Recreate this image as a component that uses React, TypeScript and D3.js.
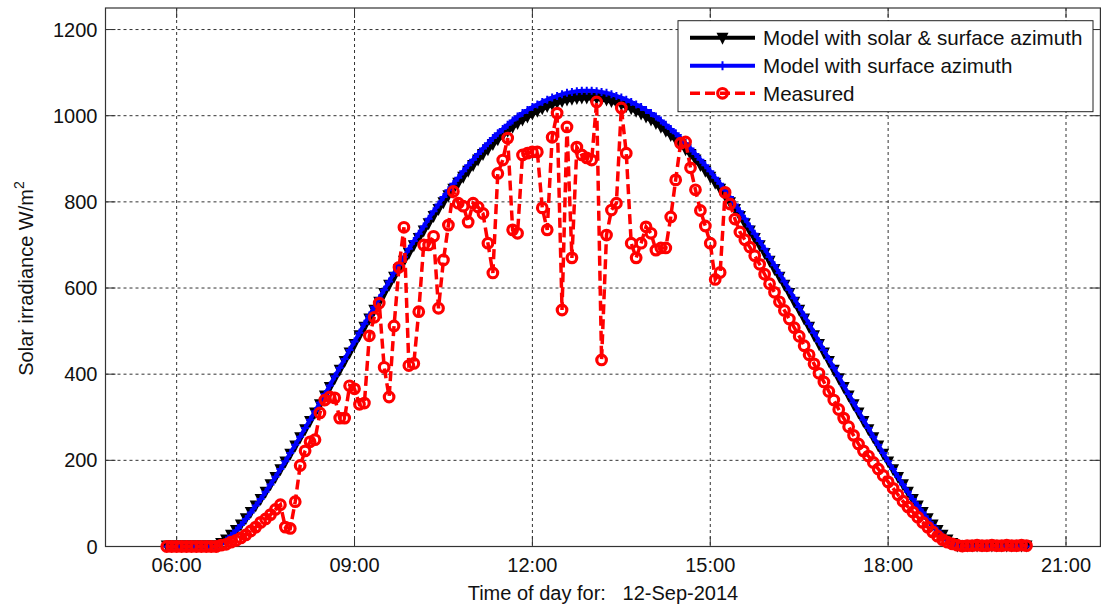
import React from 'react';
import * as d3 from 'd3';

// 5-minute samples starting at 05:50
const startHour = 5 + 50 / 60;
const stepHours = 5 / 60;

const modelSolarSurface = [
  0, 0, 0, 0, 0, 0, 0, 0, 0, 0, 0,
  6, 14, 25, 36, 49, 63, 78, 93, 108, 125, 142, 159, 177, 195, 213, 232, 251, 270, 289, 309,
  328, 348, 368, 388, 408, 428, 448, 468, 488, 508, 527, 547, 566, 586, 605, 624, 642, 661, 679, 697,
  714, 731, 748, 765, 781, 797, 813, 828, 842, 856, 870, 883, 896, 909, 920, 932, 943, 953, 963, 972,
  981, 989, 996, 1003, 1009, 1015, 1020, 1025, 1029, 1032, 1035, 1037, 1039, 1040, 1040,
  1040, 1039, 1037, 1035, 1032, 1029, 1025, 1020, 1015, 1009, 1003, 996, 989, 981, 972, 963, 953, 943,
  932, 920, 909, 896, 883, 870, 856, 842, 828, 813, 797, 781, 765, 748, 731, 714, 697, 679, 661, 642,
  624, 605, 586, 566, 547, 527, 508, 488, 468, 448, 428, 408, 388, 368, 348, 328, 309, 289, 270, 251,
  232, 213, 195, 177, 159, 142, 125, 108, 93, 78, 63, 49, 36, 25, 14, 6,
  0, 0, 0, 0, 0, 0, 0, 0, 0, 0, 0, 0, 0, 0, 0,
];

const modelSurface = [
  0, 0, 0, 0, 0, 0, 0, 0, 0, 0, 0,
  6, 14, 25, 37, 50, 64, 79, 95, 110, 127, 144, 162, 180, 198, 217, 236, 255, 275, 294, 314,
  334, 354, 374, 395, 415, 435, 456, 476, 496, 517, 536, 556, 576, 596, 615, 635, 653, 672, 691, 709,
  726, 743, 761, 778, 794, 811, 827, 842, 856, 871, 885, 898, 911, 924, 936, 948, 959, 969, 979, 989,
  998, 1006, 1013, 1020, 1026, 1032, 1037, 1042, 1046, 1050, 1053, 1055, 1057, 1058, 1058,
  1058, 1057, 1055, 1053, 1050, 1046, 1042, 1037, 1032, 1026, 1020, 1013, 1006, 998, 989, 979, 969, 959,
  948, 936, 924, 911, 898, 885, 871, 856, 842, 827, 811, 794, 778, 761, 743, 726, 709, 691, 672, 653,
  635, 615, 596, 576, 556, 536, 517, 496, 476, 456, 435, 415, 395, 374, 354, 334, 314, 294, 275, 255,
  236, 217, 198, 180, 162, 144, 127, 110, 95, 79, 64, 50, 37, 25, 14, 6,
  0, 0, 0, 0, 0, 0, 0, 0, 0, 0, 0, 0, 0, 0, 0,
];

const measured = [
  0, 0, 0, 0, 0, 0, 0, 0, 0, 0, 0,
  3, 5, 10, 14, 20, 27, 36, 45, 56, 64, 74, 86, 97,
  45, 42, 104, 188, 222, 243, 248,
  310, 340, 347, 345, 298, 298, 373, 366, 330, 333,
  489, 532, 565, 416, 347, 512, 648, 741, 420, 425,
  545, 700, 700, 720, 553, 665, 746, 824, 797, 790,
  753, 797, 788, 773, 704, 635, 866, 897, 948, 735,
  727, 909, 913, 916, 916, 786, 735, 950, 1006, 549,
  974, 670, 927, 909, 902, 897, 1032, 433, 723, 781,
  797, 1018, 913, 704, 670, 704, 742, 727, 688, 693,
  693, 765, 851, 936, 939, 879, 828, 780, 744, 704,
  620, 636, 822, 795, 760, 730, 712, 695, 675, 655,
  632, 610, 590, 568, 548, 528, 508, 488, 466, 445,
  424, 402, 382, 360, 340, 318, 298, 278, 258, 238,
  222, 210, 195, 180, 165, 150, 135, 120, 105, 92,
  80, 68, 56, 45, 34, 24, 16, 10, 6, 3,
  1, 2, 2, 3, 2, 2, 3, 2, 2, 3, 2, 2, 3, 2,
];

const xTickValues = [6, 9, 12, 15, 18, 21];
const xTickLabels = ['06:00', '09:00', '12:00', '15:00', '18:00', '21:00'];
const yTickValues = [0, 200, 400, 600, 800, 1000, 1200];

const legendLabels = [
  'Model with solar & surface azimuth',
  'Model with surface azimuth',
  'Measured',
];

const font = "'Liberation Sans', Arial, sans-serif";

const App = () => {
  const W = 1102;
  const H = 608;
  const left = 105.5, right = 1100.4, top = 8, bottom = 546.5;

  const x = d3.scaleLinear().domain([4.8, 21.58]).range([left, right]);
  const y = d3.scaleLinear().domain([0, 1250]).range([bottom, top]);

  const times = d3.range(measured.length).map(k => startHour + k * stepHours);

  const line = d3.line<number>()
    .x((d, i) => x(times[i]))
    .y(d => y(d));

  const tri = (cx, cy, s) =>
    `M${cx - s / 2},${cy - s / 2}L${cx + s / 2},${cy - s / 2}L${cx},${cy + s / 2}Z`;
  const plus = (cx, cy, s) =>
    `M${cx - s / 2},${cy}L${cx + s / 2},${cy}M${cx},${cy - s / 2}L${cx},${cy + s / 2}`;

  React.useEffect(() => {
    document.body.style.margin = '0';
  }, []);

  const tickLen = 10;
  const gridColor = '#333';
  const legX = 678, legY = 20.7, legW = 415, legH = 91;
  const rowY = [37.7, 65.7, 93.3];
  const triSize = 12;
  const circR = 4.8;

  return (
    <svg width={W} height={H} style={{ display: 'block', background: '#fff' }} fontFamily={font}>
      <rect x={0} y={0} width={W} height={H} fill="#fff" />
      {/* grid */}
      {xTickValues.map(v => (
        <line key={'gx' + v} x1={x(v)} x2={x(v)} y1={top} y2={bottom}
          stroke={gridColor} strokeWidth={1} strokeDasharray="3,3" />
      ))}
      {yTickValues.map(v => (
        <line key={'gy' + v} x1={left} x2={right} y1={y(v)} y2={y(v)}
          stroke={gridColor} strokeWidth={1} strokeDasharray="3,3" />
      ))}
      {/* ticks */}
      {xTickValues.map(v => (
        <g key={'tx' + v} stroke="#333" strokeWidth={1}>
          <line x1={x(v)} x2={x(v)} y1={bottom} y2={bottom - tickLen} />
          <line x1={x(v)} x2={x(v)} y1={top} y2={top + tickLen} />
        </g>
      ))}
      {yTickValues.map(v => (
        <g key={'ty' + v} stroke="#333" strokeWidth={1}>
          <line x1={left} x2={left + tickLen} y1={y(v)} y2={y(v)} />
          <line x1={right} x2={right - tickLen} y1={y(v)} y2={y(v)} />
        </g>
      ))}
      {/* frame */}
      <rect x={left} y={top} width={right - left} height={bottom - top}
        fill="none" stroke="#333" strokeWidth={1.2} />

      {/* tick labels */}
      {xTickValues.map((v, i) => (
        <text key={'lx' + v} x={x(v)} y={571.5} textAnchor="middle" fontSize={20} fill="#111">
          {xTickLabels[i]}
        </text>
      ))}
      {yTickValues.map(v => (
        <text key={'ly' + v} x={97.5} y={y(v)} dy="0.35em" textAnchor="end" fontSize={20} fill="#111">
          {v}
        </text>
      ))}

      {/* axis labels */}
      <text x={(left + right) / 2} y={600} textAnchor="middle" fontSize={20} fill="#111"
        style={{ whiteSpace: 'pre' }}>
        {'Time of day for:   12-Sep-2014'}
      </text>
      <text transform={`translate(33,278.5) rotate(-90)`} textAnchor="middle" fontSize={20} fill="#111">
        Solar irradiance W/m<tspan dy={-9} fontSize={14}>2</tspan>
      </text>

      {/* model with solar & surface azimuth */}
      <path d={line(modelSolarSurface) || ''} fill="none" stroke="#000" strokeWidth={4} />
      <g fill="#000">
        {modelSolarSurface.map((d, i) => (
          <path key={'b' + i} d={tri(x(times[i]), y(d), triSize)} />
        ))}
      </g>

      {/* model with surface azimuth */}
      <path d={line(modelSurface) || ''} fill="none" stroke="#0000ff" strokeWidth={4} />
      <g stroke="#0000ff" strokeWidth={2}>
        {modelSurface.map((d, i) => (
          <path key={'u' + i} d={plus(x(times[i]), y(d), 8)} />
        ))}
      </g>

      {/* measured */}
      <path d={line(measured) || ''} fill="none" stroke="#ff0000" strokeWidth={3.5}
        strokeDasharray="10,5" />
      <g stroke="#ff0000" strokeWidth={3.2} fill="none">
        {measured.map((d, i) => (
          <circle key={'m' + i} cx={x(times[i])} cy={y(d)} r={circR} />
        ))}
      </g>

      {/* legend */}
      <rect x={legX} y={legY} width={legW} height={legH} fill="#fff" stroke="#222" strokeWidth={1} />
      <line x1={690} x2={755} y1={rowY[0]} y2={rowY[0]} stroke="#000" strokeWidth={4} />
      <path d={tri(722.5, rowY[0] + 1, triSize)} fill="#000" />
      <line x1={690} x2={755} y1={rowY[1]} y2={rowY[1]} stroke="#0000ff" strokeWidth={4} />
      <path d={plus(722.5, rowY[1], 9)} stroke="#0000ff" strokeWidth={2} />
      <line x1={690} x2={755} y1={rowY[2]} y2={rowY[2]} stroke="#ff0000" strokeWidth={3.5}
        strokeDasharray="10,5" />
      <circle cx={722.5} cy={rowY[2]} r={circR} fill="none" stroke="#ff0000" strokeWidth={3.2} />
      {legendLabels.map((t, i) => (
        <text key={'leg' + i} x={763} y={rowY[i]} dy="0.35em" fontSize={20.6} fill="#111">{t}</text>
      ))}
    </svg>
  );
};

export default App;
